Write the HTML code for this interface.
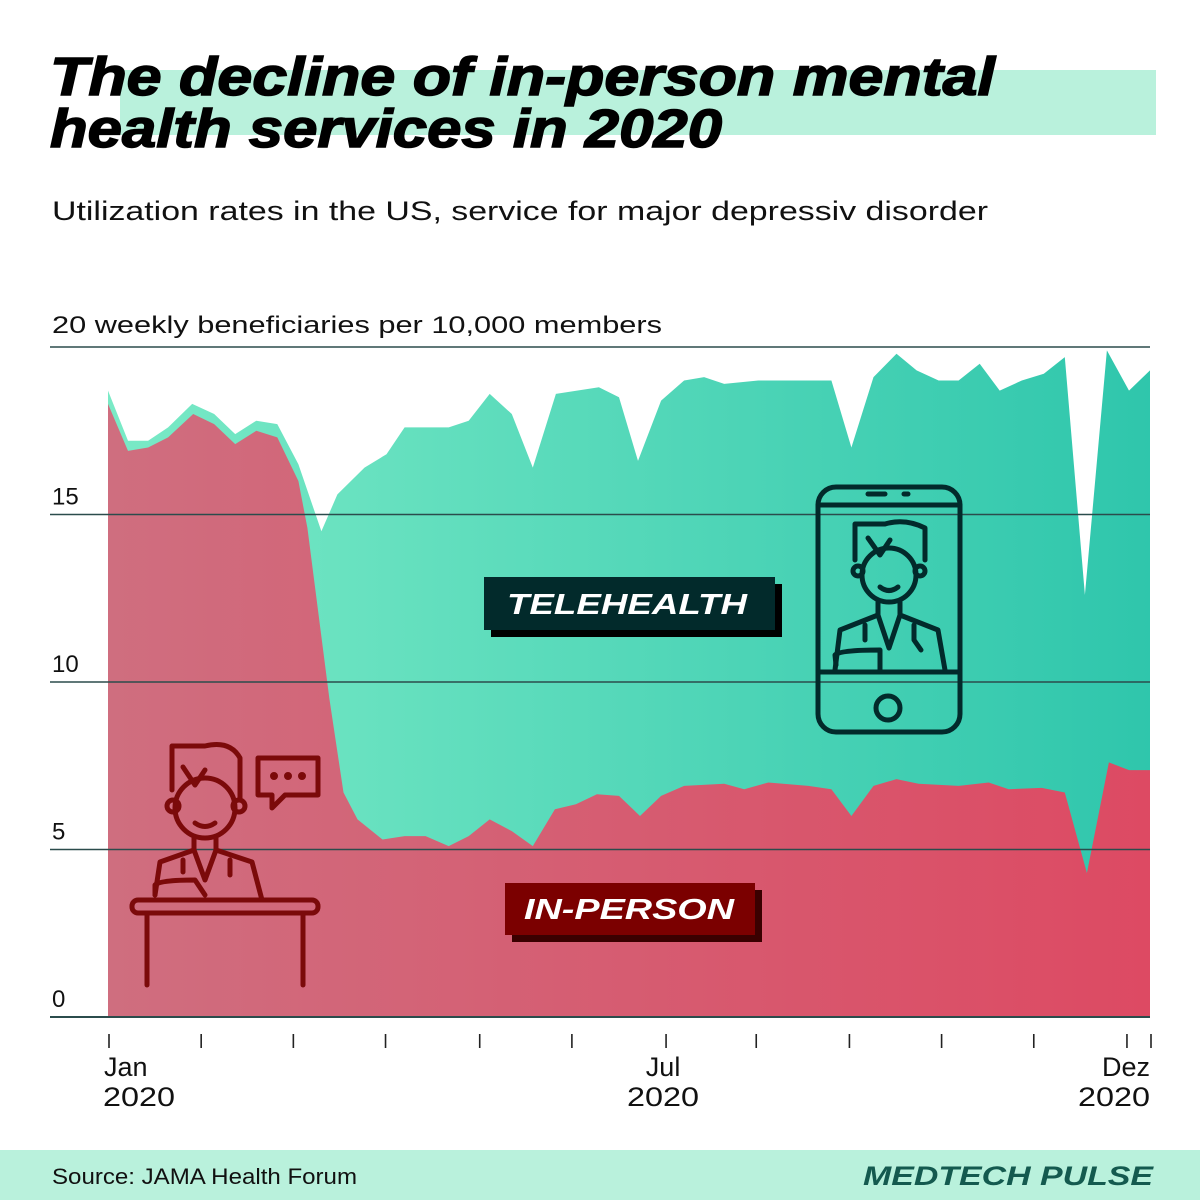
<!DOCTYPE html>
<html><head><meta charset="utf-8"><style>
html,body{margin:0;padding:0;background:#fff;}
svg{display:block;}
</style></head><body>
<svg id="chart" width="1200" height="1200" viewBox="0 0 1200 1200" xmlns="http://www.w3.org/2000/svg" font-family="Liberation Sans, sans-serif">
<defs>
<linearGradient id="gGreen" x1="0" x2="1" y1="0" y2="0"><stop offset="0" stop-color="#7aeac6"/><stop offset="1" stop-color="#2fc6ac"/></linearGradient>
<linearGradient id="gRed" x1="0" x2="1" y1="0" y2="0"><stop offset="0" stop-color="#cf6e7f"/><stop offset="1" stop-color="#dd4a63"/></linearGradient>
</defs>
<rect x="120" y="70" width="1036" height="65" fill="#b9f1dc"/>
<text x="50" y="95" font-size="54" font-weight="bold" font-style="italic" textLength="945" lengthAdjust="spacingAndGlyphs" fill="#000" stroke="#000" stroke-width="1.5">The decline of in-person mental</text>
<text x="50" y="147" font-size="54" font-weight="bold" font-style="italic" textLength="672" lengthAdjust="spacingAndGlyphs" fill="#000" stroke="#000" stroke-width="1.5">health services in 2020</text>
<text x="52" y="220" font-size="27" textLength="936" lengthAdjust="spacingAndGlyphs" fill="#111">Utilization rates in the US, service for major depressiv disorder</text>
<text x="52" y="333" font-size="24" textLength="610" lengthAdjust="spacingAndGlyphs" fill="#111">20 weekly beneficiaries per 10,000 members</text>
<g id="areas"></g>
<g id="grid"></g>
<g id="xaxis"></g>

<g>
<rect x="491" y="584" width="291" height="53" fill="#000"/>
<rect x="484" y="577" width="291" height="53" fill="#022a2b"/>
<text x="627" y="614" font-size="29" font-weight="bold" font-style="italic" fill="#fff" text-anchor="middle" textLength="240" lengthAdjust="spacingAndGlyphs">TELEHEALTH</text>
</g>
<g>
<rect x="512" y="890" width="250" height="52" fill="#3a0000"/>
<rect x="505" y="883" width="250" height="52" fill="#7b0000"/>
<text x="629" y="919" font-size="29" font-weight="bold" font-style="italic" fill="#fff" text-anchor="middle" textLength="210" lengthAdjust="spacingAndGlyphs">IN-PERSON</text>
</g>

<g fill="none" stroke="#022a2b" stroke-width="5" stroke-linecap="round" stroke-linejoin="round">
<rect x="818" y="487" width="142" height="245" rx="18"/>
<line x1="818" y1="505" x2="960" y2="505"/>
<line x1="818" y1="672" x2="960" y2="672"/>
<line x1="868" y1="494" x2="885" y2="494"/><line x1="904" y1="494" x2="908" y2="494"/>
<circle cx="888" cy="708" r="12"/>
<path d="M855 560 L855 524 L885 524 Q905 518 925 528 L925 560"/>
<circle cx="889" cy="575" r="27"/>
<path d="M868 538 L880 555 L890 540"/>
<circle cx="858" cy="571" r="5"/><circle cx="920" cy="571" r="5"/>
<path d="M880 587 Q889 594 898 587"/>
<path d="M878 602 L878 615 L840 630 L835 670 M900 602 L900 615 L938 630 L945 670"/>
<path d="M878 615 L889 648 L900 615"/>
<path d="M865 625 L865 640 M914 625 L914 640 L921 650"/>
<path d="M836 665 L835 655 Q840 650 880 650 L880 670"/>
</g>

<g fill="none" stroke="#7b0a0a" stroke-width="5" stroke-linecap="round" stroke-linejoin="round">
<path d="M172 790 L172 746 L205 746 Q230 740 240 758 L240 800"/>
<circle cx="205" cy="808" r="30"/>
<path d="M183 767 L195 785 L205 770"/>
<circle cx="173" cy="806" r="6"/><circle cx="239" cy="806" r="6"/>
<path d="M195 823 Q205 830 215 823"/>
<path d="M194 838 L194 850 L160 862 L155 895 M216 838 L216 850 L252 862 L262 900"/>
<path d="M194 850 L205 880 L216 850"/>
<path d="M183 860 L183 872 M230 860 L230 875"/>
<path d="M155 895 L155 885 Q160 880 195 880 L205 895"/>
<rect x="132" y="900" width="186" height="13" rx="6"/>
<line x1="147" y1="913" x2="147" y2="985"/><line x1="303" y1="913" x2="303" y2="985"/>
<path d="M258 758 L318 758 L318 795 L285 795 L272 808 L272 795 L258 795 Z"/>
<circle cx="274" cy="776" r="1.5" fill="#7b0a0a"/><circle cx="288" cy="776" r="1.5" fill="#7b0a0a"/><circle cx="302" cy="776" r="1.5" fill="#7b0a0a"/>
</g>

<rect x="0" y="1150" width="1200" height="50" fill="#b9f1dc"/>
<text x="52" y="1184" font-size="22" textLength="305" lengthAdjust="spacingAndGlyphs" fill="#111">Source: JAMA Health Forum</text>
<text x="1153" y="1185" font-size="27" font-weight="bold" font-style="italic" fill="#145a4f" text-anchor="end" textLength="290" lengthAdjust="spacingAndGlyphs">MEDTECH PULSE</text>
</svg>
<script>
const totalWeeks = [0,1,2,3,4.2,5.3,6.35,7.4,8.45,9.5,10.65,11.45,12.8,13.9,14.8,17,18,19.05,20.15,21.2,22.35,24.5,25.5,26.45,27.6,28.75,29.75,30.75,32.45,36.1,37.1,38.2,39.35,40.35,41.45,42.45,43.5,44.5,45.6,46.7,47.75,48.75,49.85,50.95,52];
const totalValues = [18.7,17.2,17.2,17.6,18.3,18.0,17.4,17.8,17.7,16.5,14.5,15.6,16.4,16.8,17.6,17.6,17.8,18.6,18.0,16.4,18.6,18.8,18.5,16.6,18.4,19.0,19.1,18.9,19.0,19.0,17.0,19.1,19.8,19.3,19.0,19.0,19.5,18.7,19.0,19.2,19.7,12.6,19.9,18.7,19.3];
const inPersonWeeks = [0,1,2,3,4.25,5.3,6.35,7.4,8.45,9.5,9.95,11.05,11.75,12.45,13.7,14.8,15.85,17,18,19.05,20.15,21.2,22.3,23.35,24.4,25.5,26.55,27.6,28.75,30.75,31.75,32.95,34.95,36.1,37.1,38.2,39.35,40.45,42.45,43.95,44.95,46.6,47.75,48.85,49.95,50.95,52];
const inPersonValues = [18.3,16.9,17.0,17.3,18.0,17.7,17.1,17.5,17.3,16.0,14.6,9.5,6.7,5.9,5.3,5.4,5.4,5.1,5.4,5.9,5.55,5.1,6.2,6.35,6.65,6.6,6.0,6.6,6.9,6.96,6.8,7.0,6.9,6.8,6.0,6.9,7.1,6.96,6.9,7.0,6.8,6.84,6.7,4.3,7.6,7.37,7.37];
const yTicks = [0,5,10,15,20];
const xTickWeeks = [0,4.6,9.2,13.8,18.5,23.1,27.8,32.3,36.95,41.55,46.15,50.8,52];
const xLabelWeeks = [0,27.6,52];
const xLabelMonths = ['Jan','Jul','Dez'];
const xLabelYears = ['2020','2020','2020'];

const NS='http://www.w3.org/2000/svg';
const X0=108, X1=1150, Y0=1017, PERUNIT=33.5;
const xs = w => X0 + (X1-X0)*w/52;
const ys = v => Y0 - v*PERUNIT;
function mk(tag, attrs, parent){const e=document.createElementNS(NS,tag);for(const k in attrs)e.setAttribute(k,attrs[k]);parent.appendChild(e);return e;}
function areaPath(ws, vs){let d='M'+xs(ws[0])+' '+Y0;for(let i=0;i<ws.length;i++)d+=' L'+xs(ws[i]).toFixed(1)+' '+ys(vs[i]).toFixed(1);d+=' L'+xs(ws[ws.length-1])+' '+Y0+' Z';return d;}
const areas=document.getElementById('areas');
const tp=mk('path',{d:areaPath(totalWeeks,totalValues),fill:'url(#gGreen)'},areas);


const ip=mk('path',{d:areaPath(inPersonWeeks,inPersonValues),fill:'url(#gRed)'},areas);



const grid=document.getElementById('grid');
yTicks.forEach(t=>{
  const l=mk('line',{x1:50,x2:1150,y1:ys(t),y2:ys(t),stroke:'#2b4c4c','stroke-width':t===0?2:1.6},grid);
  
  
  if(t<20){
    const tx=mk('text',{x:52,y:ys(t)-10,'font-size':24,fill:'#111'},grid);
    tx.textContent=t;
    
    
  }
});
const xa=document.getElementById('xaxis');
xTickWeeks.forEach((w,i)=>{
  const l=mk('line',{x1:xs(w)+1,x2:xs(w)+1,y1:1034,y2:1048,stroke:'#222','stroke-width':1.6},xa);
  
  
});
xLabelWeeks.forEach((w,i)=>{
  const anchor=i===0?'start':(i===xLabelWeeks.length-1?'end':'middle');
  const xx=i===0?xs(w)-5:(i===xLabelWeeks.length-1?xs(w):xs(w)+2);
  const t1=mk('text',{x:i===0?xs(w)-4:xx,y:1076,'font-size':27,fill:'#111','text-anchor':anchor},xa);
  t1.textContent=xLabelMonths[i];
  
  
  const t2=mk('text',{x:xx,y:1106,'font-size':27,fill:'#111','text-anchor':anchor,textLength:72,lengthAdjust:'spacingAndGlyphs'},xa);
  t2.textContent=xLabelYears[i];
  
  
});
</script>
</body></html>
